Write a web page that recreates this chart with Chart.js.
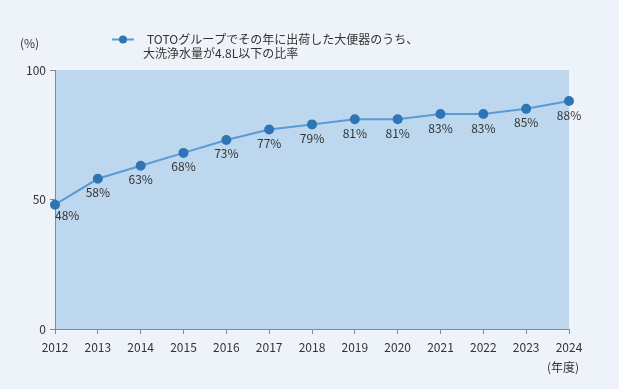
<!DOCTYPE html>
<html>
<head>
<meta charset="utf-8">
<script src="https://cdn.jsdelivr.net/npm/chart.js@4/dist/chart.umd.min.js"></script>
<style>
  html, body { margin: 0; padding: 0; background: #eef3f9; }
  #wrap { width: 619px; height: 389px; position: relative; }
</style>
</head>
<body>
<div id="wrap"><canvas id="chart" width="619" height="389"></canvas></div>
<script>
// ----------------------
//  DATA
// ----------------------
const years = ['2012', '2013', '2014', '2015', '2016', '2017', '2018', '2019', '2020', '2021', '2022', '2023', '2024'];
const ratio = [48, 58, 63, 68, 73, 77, 79, 81, 81, 83, 83, 85, 88];
const yTicks = [0, 50, 100];
const legendLines = ['TOTOグループでその年に出荷した大便器のうち、', '大洗浄水量が4.8L以下の比率'];

const FONT = '"Noto Sans CJK JP", "Noto Sans", sans-serif';
const TEXT = '#333333';

// ----------------------
//  PLUGINS
// ----------------------
const plotBg = {
    id: 'plotBg',
    beforeDraw(chart) {
        const { ctx, chartArea: a } = chart;
        ctx.save();
        ctx.fillStyle = '#bdd7ee';
        ctx.fillRect(a.left, a.top, a.right - a.left, a.bottom - a.top);
        ctx.restore();
    }
};

const extras = {
    id: 'extras',
    afterDraw(chart) {
        const { ctx } = chart;
        const meta = chart.getDatasetMeta(0);
        ctx.save();
        ctx.font = '12px ' + FONT;
        ctx.fillStyle = TEXT;
        ctx.textBaseline = 'middle';

        // value labels under points (first one sits right of the axis)
        meta.data.forEach((pt, i) => {
            ctx.textAlign = i === 0 ? 'left' : 'center';
            ctx.fillText(ratio[i] + '%', pt.x, pt.y + (i === 0 ? 11 : 14));
        });

        // unit labels
        ctx.textAlign = 'left';
        ctx.fillText('(%)', 20, 43);
        ctx.textAlign = 'right';
        ctx.fillText('(年度)', 579, 367);

        // legend
        ctx.strokeStyle = '#5b9bd5';
        ctx.lineWidth = 2;
        ctx.beginPath();
        ctx.moveTo(112, 39.5);
        ctx.lineTo(134, 39.5);
        ctx.stroke();
        ctx.fillStyle = '#2e75b6';
        ctx.beginPath();
        ctx.arc(123, 39.5, 4, 0, Math.PI * 2);
        ctx.fill();
        ctx.fillStyle = TEXT;
        ctx.textAlign = 'left';
        ctx.fillText(legendLines[0], 147, 39);
        ctx.fillText(legendLines[1], 143, 53);
        ctx.restore();
    }
};

// ----------------------
//  CHART
// ----------------------
const ctx = document.getElementById('chart').getContext('2d');
new Chart(ctx, {
    type: 'line',
    data: {
        labels: years,
        datasets: [{
            data: ratio,
            borderColor: '#5b9bd5',
            borderWidth: 2,
            pointBackgroundColor: '#2e75b6',
            pointBorderColor: '#2e75b6',
            pointRadius: 4,
            tension: 0,
            clip: false
        }]
    },
    options: {
        responsive: false,
        animation: false,
        layout: { padding: { left: 0, right: 50, top: 70, bottom: 0 } },
        plugins: { legend: { display: false }, tooltip: { enabled: false } },
        scales: {
            x: {
                offset: false,
                grid: { drawOnChartArea: false, tickLength: 5, color: '#888888' },
                border: { color: '#888888' },
                ticks: { color: TEXT, font: { family: FONT, size: 12 }, padding: 6, maxRotation: 0 },
                afterFit(scale) { scale.height = 60; }
            },
            y: {
                min: 0,
                max: 100,
                afterBuildTicks(scale) { scale.ticks = yTicks.map(v => ({ value: v })); },
                grid: { drawOnChartArea: false, tickLength: 5, color: '#888888' },
                border: { color: '#888888' },
                ticks: { color: TEXT, font: { family: FONT, size: 12 }, padding: 4 },
                afterFit(scale) { scale.width = 55; }
            }
        }
    },
    plugins: [plotBg, extras]
});
</script>
</body>
</html>
